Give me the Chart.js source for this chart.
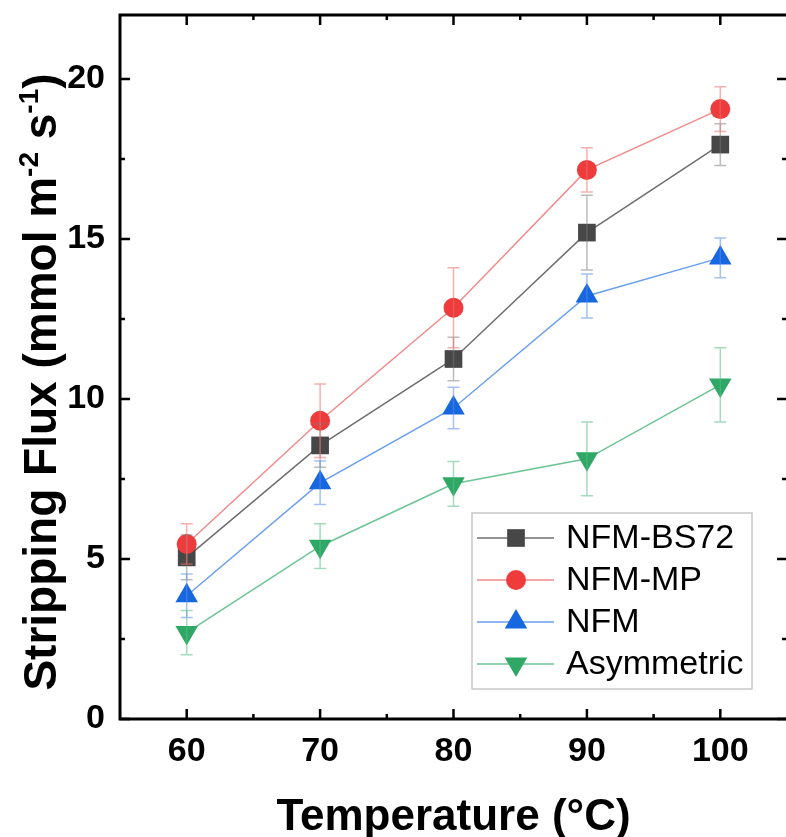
<!DOCTYPE html>
<html>
<head>
<meta charset="utf-8">
<script src="https://cdn.jsdelivr.net/npm/chart.js@4/dist/chart.umd.min.js"></script>
<style>
  html, body { margin: 0; padding: 0; background: #fff; overflow: hidden; }
  #wrap { width: 800px; height: 837px; }
</style>
</head>
<body>
<div id="wrap"><canvas id="c" width="800" height="837"></canvas></div>
<script>
// Temperature (°C)
const temperatures = [60, 70, 80, 90, 100];

// Stripping flux (mmol m-2 s-1) and standard deviations
const fluxBS72 = [5.05, 8.55, 11.25, 15.2, 17.95];
const errBS72  = [0.7, 0.68, 0.68, 1.17, 0.65];
const fluxMP   = [5.47, 9.32, 12.85, 17.16, 19.06];
const errMP    = [0.63, 1.15, 1.25, 0.69, 0.7];
const fluxNFM  = [3.85, 7.38, 9.72, 13.22, 14.41];
const errNFM   = [0.68, 0.68, 0.65, 0.69, 0.62];
const fluxAsym = [2.7, 5.4, 7.35, 8.13, 10.44];
const errAsym  = [0.69, 0.7, 0.7, 1.15, 1.16];

const seriesNames = ['NFM-BS72', 'NFM-MP', 'NFM', 'Asymmetric'];

const xTicks = [60, 70, 80, 90, 100];
const xMinorTicks = [65, 75, 85, 95];
const yTicks = [0, 5, 10, 15, 20];
const yMinorTicks = [2.5, 7.5, 12.5, 17.5];

const FONT = '"Liberation Sans", Arial, Helvetica, sans-serif';

const styles = [
  { marker: '#474747', line: '#6e6e6e', err: 'rgba(120,120,120,0.5)', pointStyle: 'rect', radius: 12.5, rotation: 0 },
  { marker: '#ee3c3c', line: '#f28a8a', err: 'rgba(240,110,110,0.55)', pointStyle: 'circle', radius: 10, rotation: 0 },
  { marker: '#1767e0', line: '#6a9ff0', err: 'rgba(90,140,235,0.55)', pointStyle: 'triangle', radius: 13, rotation: 0 },
  { marker: '#2fa866', line: '#6cc493', err: 'rgba(90,190,135,0.55)', pointStyle: 'triangle', radius: 13, rotation: 180 }
];
const values = [fluxBS72, fluxMP, fluxNFM, fluxAsym];
const errors = [errBS72, errMP, errNFM, errAsym];
const drawOrder = [1, 0, 2, 3];

const datasets = values.map((vals, i) => ({
  label: seriesNames[i],
  data: temperatures.map((t, k) => ({ x: t, y: vals[k] })),
  errors: errors[i],
  borderColor: styles[i].line,
  borderWidth: 1.5,
  backgroundColor: styles[i].marker,
  pointBackgroundColor: styles[i].marker,
  pointBorderWidth: 0,
  pointStyle: styles[i].pointStyle,
  pointRadius: styles[i].radius,
  pointRotation: styles[i].rotation,
  pointHoverRadius: styles[i].radius,
  tension: 0,
  order: drawOrder[i]
}));

const framePlugin = {
  id: 'framePlugin',
  afterDatasetsDraw(chart) {
    // error bars with caps
    const ctx = chart.ctx;
    const xs = chart.scales.x, ys = chart.scales.y;
    ctx.save();
    chart.data.datasets.forEach((ds, i) => {
      ctx.strokeStyle = styles[i].err;
      ctx.lineWidth = 1.5;
      ds.data.forEach((p, k) => {
        const e = ds.errors[k];
        const px = xs.getPixelForValue(p.x);
        const y1 = ys.getPixelForValue(p.y + e);
        const y2 = ys.getPixelForValue(p.y - e);
        ctx.beginPath();
        ctx.moveTo(px, y1); ctx.lineTo(px, y2);
        ctx.moveTo(px - 6, y1); ctx.lineTo(px + 6, y1);
        ctx.moveTo(px - 6, y2); ctx.lineTo(px + 6, y2);
        ctx.stroke();
      });
    });
    ctx.restore();
  },
  afterDraw(chart) {
    const ctx = chart.ctx;
    const a = chart.chartArea;
    const xs = chart.scales.x, ys = chart.scales.y;
    ctx.save();
    // inward ticks on all four sides
    ctx.strokeStyle = '#000';
    ctx.lineWidth = 2.5;
    const major = 10, minor = 5;
    const tickX = (v, len) => {
      const px = xs.getPixelForValue(v);
      ctx.beginPath();
      ctx.moveTo(px, a.bottom); ctx.lineTo(px, a.bottom - len);
      ctx.moveTo(px, a.top); ctx.lineTo(px, a.top + len);
      ctx.stroke();
    };
    const tickY = (v, len) => {
      const py = ys.getPixelForValue(v);
      ctx.beginPath();
      ctx.moveTo(a.left, py); ctx.lineTo(a.left + len, py);
      ctx.moveTo(a.right, py); ctx.lineTo(a.right - len, py);
      ctx.stroke();
    };
    xTicks.forEach(v => tickX(v, major));
    xMinorTicks.forEach(v => tickX(v, minor));
    yTicks.forEach(v => tickY(v, major));
    yMinorTicks.forEach(v => tickY(v, minor));
    // frame: left, top and bottom edges (right edge lies past the page)
    ctx.lineWidth = 3;
    ctx.beginPath();
    ctx.moveTo(a.right + 4, a.top);
    ctx.lineTo(a.left, a.top);
    ctx.lineTo(a.left, a.bottom);
    ctx.lineTo(a.right + 4, a.bottom);
    ctx.stroke();

    // axis titles
    ctx.fillStyle = '#000';
    ctx.font = 'bold 44px ' + FONT;
    ctx.textAlign = 'center';
    ctx.textBaseline = 'alphabetic';
    ctx.fillText('Temperature (°C)', (a.left + a.right) / 2, 830);

    const big = 'bold 46px ' + FONT, small = 'bold 28px ' + FONT;
    const parts = [
      ['Stripping Flux (mmol m', big, 0],
      ['-2', small, -18],
      [' s', big, 0],
      ['-1', small, -18],
      [')', big, 0]
    ];
    let total = 0;
    parts.forEach(p => { ctx.font = p[1]; total += ctx.measureText(p[0]).width; });
    ctx.translate(56, 382);
    ctx.rotate(-Math.PI / 2);
    ctx.textAlign = 'left';
    let cx = -total / 2;
    parts.forEach(p => {
      ctx.font = p[1];
      ctx.fillText(p[0], cx, p[2]);
      cx += ctx.measureText(p[0]).width;
    });
    ctx.setTransform(1, 0, 0, 1, 0, 0);

    // legend
    const lx = a.left + 352, ly = a.top + 498, lw = 280, lh = 176;
    ctx.fillStyle = '#fff';
    ctx.fillRect(lx, ly, lw, lh);
    ctx.strokeStyle = '#c8c8c8';
    ctx.lineWidth = 1.5;
    ctx.strokeRect(lx, ly, lw, lh);
    chart.data.datasets.forEach((ds, i) => {
      const rowY = ly + 25 + i * 42;
      ctx.strokeStyle = styles[i].line;
      ctx.lineWidth = 1.5;
      ctx.beginPath();
      ctx.moveTo(lx + 5, rowY); ctx.lineTo(lx + 82, rowY);
      ctx.stroke();
      ctx.fillStyle = styles[i].marker;
      Chart.helpers.drawPoint(ctx, {
        pointStyle: styles[i].pointStyle,
        radius: styles[i].radius,
        rotation: styles[i].rotation,
        borderWidth: 0
      }, lx + 44, rowY);
      ctx.fillStyle = '#000';
      ctx.font = '34px ' + FONT;
      ctx.textAlign = 'left';
      ctx.textBaseline = 'middle';
      ctx.fillText(ds.label, lx + 94, rowY + 1);
    });
    ctx.restore();
  }
};

new Chart(document.getElementById('c'), {
  type: 'line',
  data: { datasets },
  options: {
    responsive: false,
    animation: false,
    events: [],
    layout: { padding: { top: 15, right: 12, left: 0, bottom: 0 } },
    plugins: { legend: { display: false }, tooltip: { enabled: false } },
    scales: {
      x: {
        type: 'linear',
        min: 55, max: 105,
        afterFit(s) { s.height = 118; s.paddingLeft = 0; s.paddingRight = 0; },
        afterBuildTicks(s) { s.ticks = xTicks.map(v => ({ value: v })); },
        grid: { display: false, drawTicks: false },
        border: { display: false },
        ticks: {
          padding: 12,
          color: '#000',
          font: { family: FONT, size: 34, weight: 'bold' },
          maxRotation: 0
        }
      },
      y: {
        type: 'linear',
        min: 0, max: 22,
        afterFit(s) { s.width = 120; s.paddingTop = 0; s.paddingBottom = 0; },
        afterBuildTicks(s) { s.ticks = yTicks.map(v => ({ value: v })); },
        grid: { display: false, drawTicks: false },
        border: { display: false },
        ticks: {
          padding: 15,
          color: '#000',
          font: { family: FONT, size: 34, weight: 'bold' }
        }
      }
    }
  },
  plugins: [framePlugin]
});
</script>
</body>
</html>
